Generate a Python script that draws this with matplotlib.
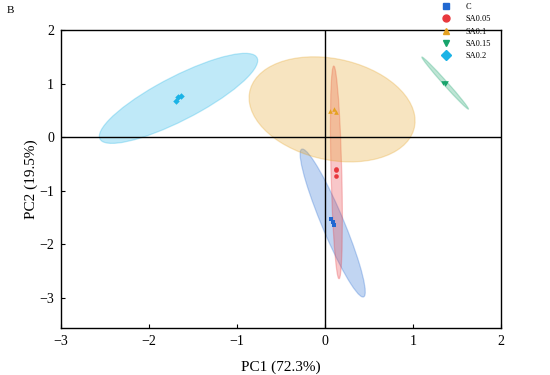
import numpy as np
import matplotlib
matplotlib.use('Agg')
import matplotlib.pyplot as plt
from matplotlib.patches import Ellipse
import matplotlib.transforms as transforms

plt.rcParams['font.family'] = ['Liberation Serif', 'DejaVu Serif']
plt.rcParams['axes.unicode_minus'] = True

groups = ['C', 'SA0.05', 'SA0.1', 'SA0.15', 'SA0.2']
colors = ['#2168d1', '#e8383d', '#e5a120', '#17a36b', '#1bb3e6']
markers = ['s', 'o', '^', 'v', 'D']

# sample scores (PC1, PC2)
pc1 = [
    [0.07, 0.09, 0.10],
    [0.12, 0.12, 0.125],
    [0.06, 0.10, 0.13],
    [1.34, 1.36, 1.37],
    [-1.69, -1.67, -1.64],
]
pc2 = [
    [-1.53, -1.58, -1.63],
    [-0.60, -0.61, -0.72],
    [0.49, 0.53, 0.48],
    [1.02, 1.00, 1.01],
    [0.68, 0.75, 0.77],
]

# confidence ellipses: centre, half-extent in x / y, correlation
ell_cx = [0.087, 0.129, 0.08, 1.365, -1.665]
ell_cy = [-1.60, -0.655, 0.52, 1.01, 0.725]
ell_sx = [0.37, 0.068, 0.943, 0.265, 0.9]
ell_sy = [1.38, 1.985, 0.98, 0.486, 0.84]
ell_r = [-0.93, -0.44, -0.22, -0.993, 0.84]

fig = plt.figure(figsize=(5.5, 3.75), dpi=100)
ax = fig.add_axes([0.111, 0.125, 0.8, 0.795])

for i, g in enumerate(groups):
    r = ell_r[i]
    e = Ellipse((0, 0), width=2 * np.sqrt(1 + r), height=2 * np.sqrt(1 - r),
                facecolor=colors[i], edgecolor=colors[i], alpha=0.28, lw=0.9, zorder=2)
    tr = transforms.Affine2D().rotate_deg(45).scale(ell_sx[i], ell_sy[i]).translate(ell_cx[i], ell_cy[i])
    e.set_transform(tr + ax.transData)
    ax.add_patch(e)

ax.axhline(0, color='black', lw=1.0, zorder=3)
ax.axvline(0, color='black', lw=1.0, zorder=3)

for i, g in enumerate(groups):
    ax.scatter(pc1[i], pc2[i], marker=markers[i], s=11, color=colors[i], lw=0, zorder=4, label=g)

ax.set_xlim(-3, 2)
ax.set_ylim(-3.56, 2)
ax.set_xticks([-3, -2, -1, 0, 1, 2])
ax.set_yticks([-3, -2, -1, 0, 1, 2])
ax.tick_params(direction='in', length=3, width=0.8, labelsize=10, pad=5)
for sp in ax.spines.values():
    sp.set_linewidth(1.0)
ax.set_xlabel('PC1 (72.3%)', fontsize=11, labelpad=9)
ax.set_ylabel('PC2 (19.5%)', fontsize=11, labelpad=1)

handles = [plt.Line2D([], [], ls='none', marker=markers[i], color=colors[i], markersize=5)
           for i in range(len(groups))]
fig.legend(handles, groups, loc='upper left', bbox_to_anchor=(0.79, 1.012), frameon=False,
           fontsize=6, handlelength=1.0, handletextpad=1.8, labelspacing=0.52)

fig.text(0.013, 0.965, 'B', fontsize=8)

fig.savefig('out.png', dpi=100)
